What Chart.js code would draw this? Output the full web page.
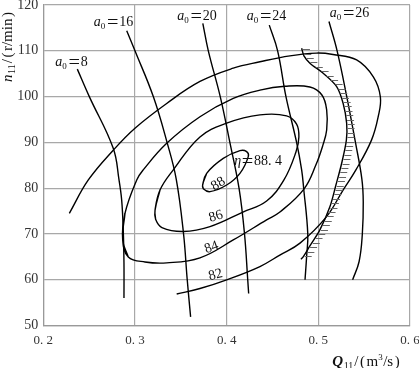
<!DOCTYPE html>
<html><head><meta charset="utf-8">
<script src="https://cdn.jsdelivr.net/npm/chart.js@4.4.0/dist/chart.umd.min.js"></script>
<style>html,body{margin:0;padding:0;background:#fff;}canvas{display:block;}</style>
</head><body>
<canvas id="c" width="419" height="368"></canvas>
<script>
// ---- tick labels ----
const xTickLabels = ['0. 2','0. 3','0. 4','0. 5','0. 6'];
const yTickLabels = ['50','60','70','80','90','100','110','120'];

// ---- efficiency contours [Q11, n11] ----
const eta82 = [[0.3455,56.9],[0.3709,58.1],[0.4,60.0],[0.4363,62.9],[0.458,65.4],[0.48,68.0],[0.509,73.8],[0.527,79.6],[0.541,84.0],[0.558,90.5],[0.5653,95.6],[0.5677,99.9],[0.56,104.3],[0.5418,108.0],[0.516,109.2],[0.498,109.5],[0.469,108.9],[0.4363,107.6],[0.4072,106.2],[0.3709,103.3],[0.3346,98.5],[0.3,93.1],[0.2763,88.3],[0.2491,81.8],[0.2284,74.5]];
const eta84 = [[0.2866,68.7],[0.2891,74.5],[0.3019,81.8],[0.309,84.0],[0.3346,89.8],[0.3709,95.6],[0.4072,99.6],[0.4363,101.4],[0.4636,102.25],[0.4908,102.1],[0.5039,100.35],[0.5091,97.1],[0.5091,92.7],[0.505,89.4],[0.4974,85.1],[0.4843,79.8],[0.4581,74.8],[0.4436,73.1],[0.4072,68.7],[0.3709,64.8],[0.3346,63.7],[0.3109,63.9],[0.2927,65.0]];
const eta86 = [[0.3219,75.2],[0.3273,79.6],[0.3418,84.0],[0.3709,91.2],[0.4,94.2],[0.4363,96.0],[0.4654,95.8],[0.4763,94.0],[0.4788,91.2],[0.4756,87.9],[0.4625,81.8],[0.4436,77.2],[0.4178,74.8],[0.3818,71.6],[0.3527,70.55],[0.3294,71.4],[0.3225,73.2]];
const eta88 = [[0.3738,80.7],[0.3782,83.25],[0.3963,86.5],[0.4145,88.2],[0.4218,88.0],[0.4236,86.9],[0.4145,83.25],[0.4,80.7],[0.3818,79.25],[0.3745,79.9]];
const etaLabels = ['82','84','86','88'];
const etaMax = '88. 4';

// ---- cavitation / limit line (hatched) ----
const limitLine = [[0.4818,110.55],[0.4843,108.9],[0.4908,107.3],[0.5053,105.1],[0.52,102.2],[0.5271,98.5],[0.5309,94.2],[0.5306,90.5],[0.5254,85.4],[0.5192,80.7],[0.5127,76.0],[0.5017,70.9],[0.4908,67.4],[0.4835,65.0],[0.481,64.5]];

// ---- guide vane opening lines ----
const a0Values = ['8','16','20','24','26'];
const a0_8  = [[0.2371,106.0],[0.2502,100.0],[0.2763,88.7],[0.2826,81.8],[0.2855,77.4],[0.2872,70.9],[0.288,63.6],[0.288,56.0]];
const a0_16 = [[0.291,114.4],[0.300,110],[0.320,100],[0.335,90],[0.345,82],[0.353,70],[0.357,60],[0.3607,51.9]];
const a0_20 = [[0.374,116],[0.380,110],[0.393,100],[0.4035,90],[0.4135,80],[0.4195,70],[0.423,60],[0.424,57]];
const a0_24 = [[0.4465,115.6],[0.4556,110],[0.4647,100],[0.4763,90],[0.4818,84],[0.484,80],[0.4885,70],[0.4872,65],[0.4855,60]];
const a0_26 = [[0.5116,116.4],[0.5205,110],[0.531,100],[0.5405,90],[0.5475,82],[0.549,77],[0.548,70],[0.5445,64],[0.5374,60]];

// ---- label anchors (data space) ----
const a0LabelPos = [[0.2308,107.66],[0.2766,116.29],[0.3676,117.6],[0.4436,117.6],[0.5339,118.47]];
const etaLabelPos = [[0.3878,61.05,-15],[0.3836,67.05,-20],[0.3883,73.82,-17],[0.3908,80.92,-32]];
const etaMaxPos = [0.4082,85.94];

const F = "'Liberation Serif','Noto Sans CJK SC',serif";
const toPts = a => a.map(p => ({x:p[0], y:p[1]}));
const closed = a => { const n=a.length; return toPts([a[n-1], ...a, a[0], a[1]]); };
const lineDs = (data, extra) => Object.assign({data, showLine:true, pointRadius:0, borderColor:'#000', borderWidth:1.4, tension:0.4, fill:false}, extra||{});

function drawRich(ctx, parts, x, y, align){
  let w=0;
  for(const p of parts){ ctx.font=p.f; w += ctx.measureText(p.t).width + (p.gap||0); }
  let cx = align==='center' ? x-w/2 : (align==='right' ? x-w : x);
  ctx.textBaseline='alphabetic'; ctx.textAlign='left';
  for(const p of parts){ ctx.font=p.f; ctx.fillText(p.t, cx, y+(p.dy||0)); cx += ctx.measureText(p.t).width + (p.gap||0); }
}

const annot = {
  id:'annot',
  afterDatasetsDraw(chart){
    const {ctx, scales:{x,y}, chartArea:ca} = chart;
    ctx.save();
    // hatch ticks on limit line
    const pts = limitLine.map(p => [x.getPixelForValue(p[0]), y.getPixelForValue(p[1])]);
    ctx.strokeStyle='#666'; ctx.lineWidth=1;
    for(let yy = pts[0][1]+1; yy < pts[pts.length-1][1]-1; yy += 4.4){
      for(let i=0;i<pts.length-1;i++){
        const a=pts[i], b=pts[i+1];
        if(yy>=a[1] && yy<=b[1]){
          const t=(yy-a[1])/(b[1]-a[1]); const xx=a[0]+t*(b[0]-a[0]);
          ctx.beginPath(); ctx.moveTo(xx+1, Math.round(yy)+0.5); ctx.lineTo(xx+8, Math.round(yy)+0.5); ctx.stroke();
          break;
        }
      }
    }
    ctx.fillStyle='#111';
    // a0 labels
    a0Values.forEach((v,i)=>{
      const px=x.getPixelForValue(a0LabelPos[i][0]), py=y.getPixelForValue(a0LabelPos[i][1]);
      drawRich(ctx, [{t:'a',f:'italic 14px '+F},{t:'0',f:'9px '+F,dy:3,gap:1},{t:'＝',f:'13px '+F},{t:v,f:'14px '+F}], px, py+4.5, 'center');
    });
    // contour labels
    etaLabels.forEach((v,i)=>{
      const [q,n,r]=etaLabelPos[i];
      const px=x.getPixelForValue(q), py=y.getPixelForValue(n);
      ctx.save(); ctx.translate(px,py); ctx.rotate(r*Math.PI/180);
      ctx.font='14px '+F; ctx.textAlign='center'; ctx.textBaseline='middle';
      ctx.fillText(v,0,0); ctx.restore();
    });
    // eta max label
    drawRich(ctx, [{t:'η',f:'italic 14px '+F},{t:'＝',f:'13px '+F},{t:etaMax,f:'14px '+F}],
      x.getPixelForValue(etaMaxPos[0]), y.getPixelForValue(etaMaxPos[1])+4.5, 'left');
    // y axis title
    ctx.save(); ctx.translate(12, 47); ctx.rotate(-Math.PI/2);
    drawRich(ctx, [{t:'n',f:'italic 15px '+F,gap:0.5},{t:'11',f:'10px '+F,dy:3,gap:1},{t:'/',f:'15px '+F,gap:1.5},{t:'(',f:'15px '+F,gap:1.5},{t:'r/min',f:'15px '+F,gap:1.5},{t:')',f:'15px '+F}], 0, 0, 'center');
    ctx.restore();
    // x axis title
    drawRich(ctx, [{t:'Q',f:'italic bold 15px '+F,gap:0.5},{t:'11',f:'10px '+F,dy:3,gap:1},{t:'/',f:'15px '+F,gap:1.5},{t:'(',f:'15px '+F,gap:1.5},{t:'m',f:'15px '+F},{t:'3',f:'9px '+F,dy:-6,gap:0.5},{t:'/s',f:'15px '+F,gap:1.5},{t:')',f:'15px '+F}], ca.right-44, ca.bottom+40, 'center');
    ctx.restore();
  }
};

new Chart(document.getElementById('c'), {
  type:'scatter',
  data:{ datasets:[
    lineDs(toPts(eta82)),
    lineDs(closed(eta84)),
    lineDs(closed(eta86)),
    lineDs(closed(eta88)),
    lineDs(toPts(limitLine), {tension:0.3}),
    lineDs(toPts(a0_8)), lineDs(toPts(a0_16)), lineDs(toPts(a0_20)), lineDs(toPts(a0_24)), lineDs(toPts(a0_26))
  ]},
  options:{
    responsive:false, animation:false, devicePixelRatio:1,
    layout:{padding:{top:5,right:9,left:0,bottom:0}},
    plugins:{legend:{display:false}, tooltip:{enabled:false}},
    scales:{
      x:{type:'linear', min:0.2, max:0.6,
        ticks:{stepSize:0.1, padding:7, color:'#333', font:{family:F,size:13}, callback:(v,i)=>xTickLabels[i]},
        grid:{color:'#a8a8a8', lineWidth:1.2, drawTicks:false}, border:{color:'#999', width:1.2},
        afterFit:s=>{s.height=42.4; s.paddingLeft=0; s.paddingRight=0;}},
      y:{type:'linear', min:50, max:120,
        ticks:{stepSize:10, padding:5, color:'#333', font:{family:F,size:14}, callback:(v,i)=>yTickLabels[i]},
        grid:{color:'#a8a8a8', lineWidth:1.2, drawTicks:false}, border:{color:'#999', width:1.2},
        afterFit:s=>{s.width=43.3; s.paddingTop=0; s.paddingBottom=0;}}
    }
  },
  plugins:[annot]
});
</script>
</body></html>
